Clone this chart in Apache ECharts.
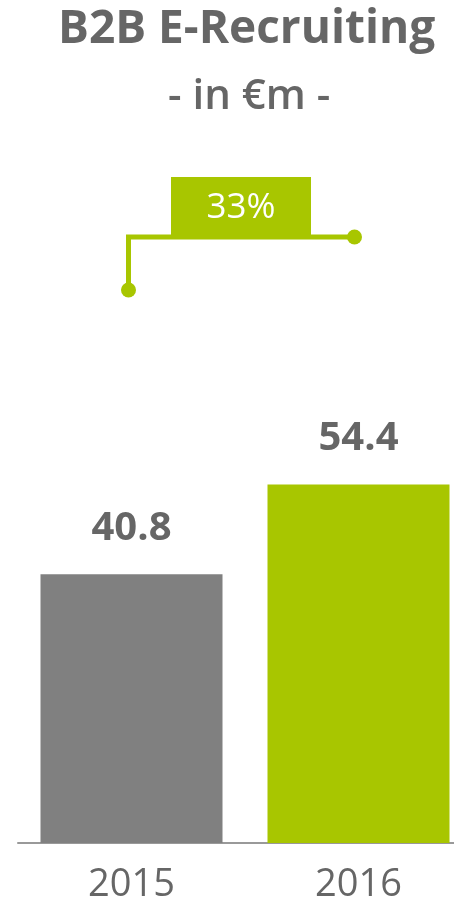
<!DOCTYPE html>
<html>
<head>
<meta charset="utf-8">
<script src="https://cdn.jsdelivr.net/npm/echarts@6/dist/echarts.min.js"></script>
<style>
html,body{margin:0;padding:0;background:#fff;}
#chart{width:454px;height:905px;}
</style>
</head>
<body>
<div id="chart"></div>
<script>
var titleText = 'B2B E-Recruiting';
var subtitleText = '- in €m -';
var categories = ['2015', '2016'];
var values = [40.8, 54.4];
var barColors = ['#808080', '#a8c600'];

var FONT = 'Open Sans';
var growth = Math.round((values[1] / values[0] - 1) * 100) + '%';

var chart = echarts.init(document.getElementById('chart'), null, {renderer: 'canvas'});
var option = {
  animation: false,
  title: [
    {text: titleText, left: 53, top: 2,
     textStyle: {fontFamily: FONT, fontSize: 46, fontWeight: 'bold', color: '#666666'}},
    {text: subtitleText, left: 163, top: 71,
     textStyle: {fontFamily: FONT, fontSize: 42, fontWeight: 600, color: '#666666'}}
  ],
  grid: {left: 18, width: 454, top: 184, bottom: 62, outerBoundsMode: 'none', containLabel: false},
  xAxis: {
    type: 'category',
    data: categories,
    axisLine: {lineStyle: {color: '#999999', width: 2}},
    axisTick: {show: false},
    axisLabel: {fontFamily: FONT, fontSize: 38, color: '#666666', margin: 23}
  },
  yAxis: {
    type: 'value', min: 0, max: 100,
    show: false, splitLine: {show: false}
  },
  series: [{
    type: 'bar',
    barWidth: 182,
    data: values.map(function (v, i) { return {value: v, itemStyle: {color: barColors[i]}}; }),
    label: {
      show: true, position: 'top', distance: 26,
      fontFamily: FONT, fontSize: 40, fontWeight: 'bold', color: '#666666',
      formatter: function (p) { return p.value.toFixed(1); }
    }
  }]
};
chart.setOption(option);

function drawBracket() {
  var x1 = chart.convertToPixel({xAxisIndex: 0}, categories[0]) - 3;
  var x2 = chart.convertToPixel({xAxisIndex: 0}, categories[1]) - 4;
  var yLow = 290, yHigh = 237;
  var green = barColors[1];
  chart.setOption({
    graphic: [
      {type: 'polyline', shape: {points: [[x1, yLow], [x1, yHigh], [x2, yHigh]]},
       style: {stroke: green, lineWidth: 5, fill: null}, z: 10},
      {type: 'circle', shape: {cx: x1, cy: yLow, r: 7.5}, style: {fill: green}, z: 11},
      {type: 'circle', shape: {cx: x2, cy: yHigh, r: 7.5}, style: {fill: green}, z: 11},
      {type: 'rect', shape: {x: 171, y: 177, width: 140, height: 60}, style: {fill: green}, z: 12},
      {type: 'text', x: 241, y: 208, style: {text: growth, fill: '#ffffff', fontFamily: FONT,
        fontSize: 35, fontWeight: 'normal', align: 'center', verticalAlign: 'middle'}, z: 13}
    ]
  });
}
drawBracket();
</script>
</body>
</html>
